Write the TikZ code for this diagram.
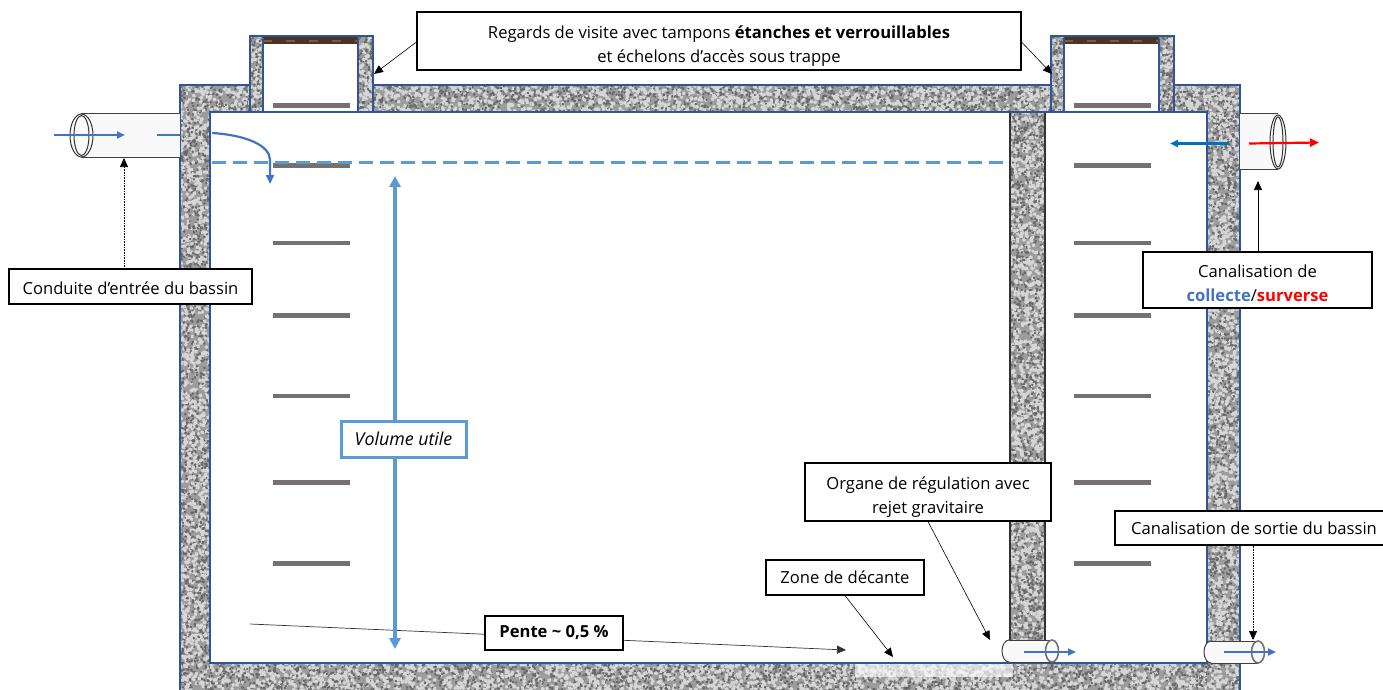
\documentclass[tikz,border=0pt]{standalone}
\usepackage{fontspec}
\setmainfont{Open Sans}
\usetikzlibrary{arrows.meta, calc}
\definecolor{wallblue}{HTML}{2F5597}
\definecolor{flowblue}{HTML}{4472C4}
\definecolor{waterblue}{HTML}{5B9BD5}
\definecolor{backblue}{HTML}{0070C0}
\definecolor{rungrey}{HTML}{767171}
\definecolor{pipefill}{HTML}{F9F9F9}
\definecolor{granitebase}{HTML}{9C9C9C}
\definecolor{granitedark}{HTML}{686868}
\definecolor{granitelight}{HTML}{D6D6D6}
\definecolor{hatchbrown}{HTML}{4B3424}
\definecolor{hatchlight}{HTML}{7A5C42}
\newcommand{\granitefill}[4]{
    \begin{scope}[line cap=round]
        \clip (#1,#2) rectangle (#3,#4);
        \pgfmathtruncatemacro{\chunkcount}{(#3-#1)/15*(#4-#2)/40+1}
        \foreach \c in {1,...,\chunkcount} {
            \draw[granitelight, line width=3.6pt] \foreach \g in {1,...,40} {({#1+rnd*(#3-#1)},{#2+rnd*(#4-#2)}) -- ++({2*rnd-1},{2*rnd-1})};
            \draw[granitedark, line width=2.2pt] \foreach \g in {1,...,40} {({#1+rnd*(#3-#1)},{#2+rnd*(#4-#2)}) -- ++({2*rnd-1},{2*rnd-1})};
        }
    \end{scope}
}
\tikzset{
    labelbox/.style={draw=black, line width=1.1pt, fill=white, align=center, inner sep=0pt, font=\fontsize{16.6}{23.5}\selectfont},
    pointer/.style={black, line width=0.6pt, -{Triangle[length=9pt,width=8pt]}},
    flow/.style={flowblue, line width=2pt, -{Triangle[length=8pt,width=7pt]}},
    rung/.style={rungrey, line width=4.4pt},
    pipewall/.style={draw=black!75, line width=1pt},
}
\begin{document}
\begin{tikzpicture}[x=1pt, y=-1pt]
                        \useasboundingbox (0,0) rectangle (1383,690);
                        \pgfmathsetseed{7}
                        \fill[white] (0,0) rectangle (1383,690);
                        \fill[granitebase] (180,85) rectangle (1240,692);
                        \fill[granitebase] (250,36) rectangle (373,112);
                        \fill[granitebase] (1051,36) rectangle (1174,112);
                        \granitefill{180}{85}{1240}{112}
                        \granitefill{180}{112}{210}{692}
                        \granitefill{1207}{112}{1240}{692}
                        \granitefill{210}{663}{1207}{692}
                        \granitefill{250}{36}{373}{85}
                        \granitefill{1051}{36}{1174}{85}
                        \fill[white] (210,112) rectangle (1207,663);
                        \fill[white, opacity=0.65] (855,663) rectangle (1013,677);
                        \fill[granitebase] (1010,112) rectangle (1045,663);
                        \granitefill{1010}{112}{1045}{663}
                        \draw[black!80, line width=1.4pt] (1010,663) -- (1010,112) -- (1045,112) -- (1045,663);
                        \fill[white] (263,44) rectangle (358,112);
                        \fill[white] (1064,44) rectangle (1159,112);
                        \fill[hatchbrown] (263,37.5) rectangle (358,44);
                        \fill[hatchbrown] (1064,37.5) rectangle (1159,44);
                        \draw[hatchlight, line width=2.6pt, dash pattern=on 9pt off 14pt] (263,41) -- (358,41);
                        \draw[hatchlight, line width=2.6pt, dash pattern=on 9pt off 14pt] (1064,41) -- (1159,41);
                        \draw[wallblue, line width=1.3pt] (180,692) -- (180,85) -- (250,85) (373,85) -- (1051,85) (1174,85) -- (1240,85) -- (1240,692);
                        \draw[wallblue, line width=1.3pt] (210,112) rectangle (1207,663);
                        \draw[wallblue, line width=1.3pt] (250,112) -- (250,36) -- (373,36) -- (373,112);
                        \draw[wallblue, line width=1.3pt] (1051,112) -- (1051,36) -- (1174,36) -- (1174,112);
                        \draw[wallblue, line width=1.3pt] (263,112) -- (263,38) (358,38) -- (358,112);
                        \draw[wallblue, line width=1.3pt] (1064,112) -- (1064,38) (1159,38) -- (1159,112);
                        \foreach \y in {105.5,165.5,243,315.5,396,482.5,563.5} {
                            \draw[rung] (273,\y) -- (350,\y);
                            \draw[rung] (1074,\y) -- (1151,\y);
                        }
                        \draw[waterblue, line width=3pt, dash pattern=on 14pt off 7pt] (212,162) -- (1010,162);
                        \draw[flowblue, line width=2.2pt, -{Triangle[length=9pt,width=8pt]}] (212,133) .. controls (245,135) and (270,145) .. (270,160) -- (270,184);
                        \fill[pipefill] (81,114.5) rectangle (179.5,156.5);
                        \draw[black!75, line width=1pt] (81,114) -- (180,114) (81,157) -- (180,157);
                        \draw[black!80, line width=1pt, fill=pipefill] (81.5,135.5) ellipse (11.5 and 21.5);
                        \draw[black!80, line width=1pt] (81.5,135.5) ellipse (7.5 and 20);
                        \coordinate (inletIn) at (54,135);
                        \coordinate (inletOut) at (125,135);
                        \coordinate (inletWallA) at (157,135);
                        \coordinate (inletWallB) at (180,135);
                        \draw[flow] (inletIn) -- (inletOut);
                        \draw[flowblue, line width=2pt] (inletWallA) -- (inletWallB);
                        \fill[pipefill] (1240,114) rectangle (1278,169);
                        \draw[black!75, line width=1pt] (1240,114) -- (1278,114) (1240,169) -- (1278,169);
                        \draw[black!80, line width=1pt, fill=pipefill] (1278,142) ellipse (8 and 27);
                        \draw[black!80, line width=1pt] (1278,142) ellipse (5 and 25);
                        \coordinate (backStart) at (1229,143.5);
                        \coordinate (backEnd) at (1170,143.5);
                        \coordinate (overflowStart) at (1249,143.5);
                        \coordinate (overflowEnd) at (1319,142.5);
                        \draw[backblue, line width=2.2pt, -{Triangle[length=8pt,width=7pt]}] (backStart) -- (backEnd);
                        \draw[red, line width=2.2pt, -{Triangle[length=9pt,width=8pt]}] (overflowStart) -- (overflowEnd);
                        \draw[pipewall, fill=pipefill] (1009,651) ellipse (7 and 11);
                        \fill[pipefill] (1009,640.5) rectangle (1052,661.5);
                        \draw[pipewall] (1009,640) -- (1052,640) (1009,662) -- (1052,662);
                        \draw[rungrey, line width=1.6pt, fill=pipefill] (1052,651) ellipse (6.5 and 11);
                        \draw[pipewall, fill=pipefill] (1211,652) ellipse (7 and 11);
                        \fill[pipefill] (1211,641.5) rectangle (1258,662.5);
                        \draw[pipewall] (1211,641) -- (1258,641) (1211,663) -- (1258,663);
                        \draw[rungrey, line width=1.6pt, fill=pipefill] (1258,652) ellipse (6.5 and 11);
                        \coordinate (gateIn) at (1024,652);
                        \coordinate (gateOut) at (1076,652);
                        \coordinate (exitIn) at (1224,652);
                        \coordinate (exitOut) at (1276,652);
                        \draw[flow] (gateIn) -- (gateOut);
                        \draw[flow] (exitIn) -- (exitOut);
                        \coordinate (slopeStart) at (250,624);
                        \coordinate (slopeEnd) at (846,650);
                        \coordinate (levelTop) at (395,176);
                        \coordinate (levelBottom) at (395,649);
                        \draw[black!80, line width=0.7pt, -{Triangle[length=9pt,width=8pt]}] (slopeStart) -- (slopeEnd);
                        \draw[waterblue, line width=3.6pt, {Triangle[length=11pt,width=11pt]}-{Triangle[length=11pt,width=11pt]}] (levelTop) -- (levelBottom);
                        \node[labelbox, draw=waterblue, line width=3pt, minimum width=125pt, minimum height=36pt, font=\fontsize{17.8}{24}\selectfont] (volume) at (403.5,439) {\itshape Volume utile};
                        \node[labelbox, minimum width=138pt, minimum height=34pt] (slope) at (554,633) {\bfseries Pente \textasciitilde{} 0,5 \%};
                        \node[labelbox, minimum width=604pt, minimum height=58pt] (hatches) at (719,41) {\rule{0pt}{23pt}Regards de visite avec tampons \textbf{étanches et verrouillables}\\et échelons d’accès sous trappe};
                        \node[labelbox, minimum width=243pt, minimum height=35pt] (inlet) at (130.5,286.5) {\rule{0pt}{17pt}Conduite d’entrée du bassin};
                        \node[labelbox, minimum width=229pt, minimum height=56pt] (collect) at (1257.5,280) {\rule{0pt}{19pt}Canalisation de\\\textcolor{flowblue}{\textbf{collecte}}/\textcolor{red}{\textbf{surverse}}};
                        \node[labelbox, minimum width=246pt, minimum height=58pt] (gate) at (928,492) {\rule{0pt}{23pt}Organe de régulation avec\\rejet gravitaire};
                        \node[labelbox, minimum width=278pt, minimum height=34pt] (exit) at (1254,528) {Canalisation de sortie du bassin};
                        \node[labelbox, minimum width=158pt, minimum height=35pt] (settling) at (845,577.5) {Zone de décante};
                        \coordinate (hatchLeft) at (374,74);
                        \coordinate (hatchRight) at (1052,74);
                        \coordinate (inletEnd) at (124,158);
                        \coordinate (collectEnd) at (1258,181);
                        \coordinate (gateEnd) at (990,640);
                        \coordinate (exitEnd) at (1253,640);
                        \coordinate (settlingEnd) at (893,657);
                        \draw[pointer] ($(hatches.west)+(0,1)$) -- (hatchLeft);
                        \draw[pointer] ($(hatches.east)+(0,1)$) -- (hatchRight);
                        \draw[pointer, densely dotted] (inlet.north -| inletEnd) -- (inletEnd);
                        \draw[pointer] (collect.north -| collectEnd) -- (collectEnd);
                        \draw[pointer] (gate.south) -- (gateEnd);
                        \draw[pointer, densely dotted] (exit.south -| exitEnd) -- (exitEnd);
                        \draw[pointer] (settling.south) -- (settlingEnd);
                    \end{tikzpicture}
\end{document}
